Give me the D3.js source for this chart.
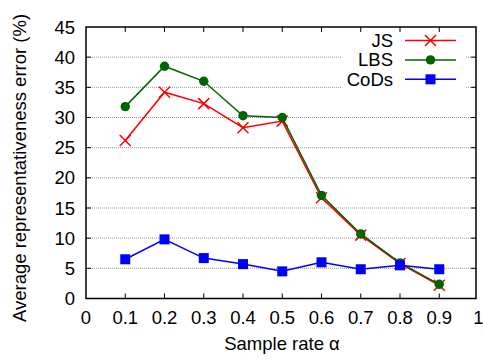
<!DOCTYPE html>
<meta charset="utf-8">
<script src="https://d3js.org/d3.v7.min.js"></script>
<style>
  body { margin: 0; background: #fff; }
  text { font-family: "Liberation Sans", Arial, sans-serif; fill: #000; }
</style>
<div id="chart"></div>
<script>
// data
var rates = [0.1, 0.2, 0.3, 0.4, 0.5, 0.6, 0.7, 0.8, 0.9];
var jsErr = [26.2, 34.2, 32.3, 28.3, 29.4, 16.7, 10.5, 5.8, 2.2];
var lbsErr = [31.8, 38.5, 36.0, 30.3, 30.0, 17.1, 10.7, 5.9, 2.35];
var codsErr = [6.5, 9.8, 6.7, 5.7, 4.5, 6.0, 4.85, 5.5, 4.85];
var xTicks = [0, 0.1, 0.2, 0.3, 0.4, 0.5, 0.6, 0.7, 0.8, 0.9, 1];
var yTicks = [0, 5, 10, 15, 20, 25, 30, 35, 40, 45];
var seriesNames = ["JS", "LBS", "CoDs"];

var W = 483, H = 360;
var pLeft = 86, pRight = 476, pTop = 27, pBottom = 298.5;
var fs = 18.5;

var svg = d3.select("#chart").append("svg")
    .attr("width", W).attr("height", H);

var x = d3.scaleLinear().domain([0, 1]).range([pLeft, 478.5]);
var y = d3.scaleLinear().domain([0, 45]).range([pBottom, pTop]);

// grid
svg.append("g").selectAll("line")
    .data(yTicks.filter(function(d) { return d > 0 && d < 45; }))
    .enter().append("line")
    .attr("x1", pLeft).attr("x2", pRight)
    .attr("y1", function(d) { return y(d); })
    .attr("y2", function(d) { return y(d); })
    .attr("stroke", "#999")
    .attr("stroke-width", 1)
    .attr("stroke-dasharray", "1,1");

// legend background hides the grid
svg.append("rect")
    .attr("x", 342).attr("y", 29).attr("width", 124).attr("height", 60)
    .attr("fill", "#fff");

// ticks (mirrored, inward)
var tickLen = 5;
var tg = svg.append("g").attr("stroke", "#000").attr("stroke-width", 1);
xTicks.filter(function(d) { return d > 0 && d < 1; }).forEach(function(d) {
    tg.append("line").attr("x1", x(d)).attr("x2", x(d)).attr("y1", pBottom).attr("y2", pBottom - tickLen);
    tg.append("line").attr("x1", x(d)).attr("x2", x(d)).attr("y1", pTop).attr("y2", pTop + tickLen);
});
yTicks.filter(function(d) { return d > 0 && d < 45; }).forEach(function(d) {
    tg.append("line").attr("x1", pLeft).attr("x2", pLeft + tickLen).attr("y1", y(d)).attr("y2", y(d));
    tg.append("line").attr("x1", pRight).attr("x2", pRight - tickLen).attr("y1", y(d)).attr("y2", y(d));
});

// tick labels
svg.append("g").selectAll("text")
    .data(xTicks).enter().append("text")
    .attr("x", function(d) { return x(d); })
    .attr("y", 324)
    .attr("text-anchor", "middle")
    .attr("font-size", fs)
    .text(function(d) { return d; });

svg.append("g").selectAll("text")
    .data(yTicks).enter().append("text")
    .attr("x", 75)
    .attr("y", function(d) { return y(d) + 6.5; })
    .attr("text-anchor", "end")
    .attr("font-size", fs)
    .text(function(d) { return d; });

// axis titles
svg.append("text")
    .attr("x", 282).attr("y", 350)
    .attr("text-anchor", "middle")
    .attr("font-size", fs)
    .text("Sample rate α");

svg.append("text")
    .attr("transform", "translate(26,168) rotate(-90)")
    .attr("text-anchor", "middle")
    .attr("font-size", fs)
    .text("Average representativeness error (%)");

// series
var line = d3.line()
    .x(function(d, i) { return x(rates[i]); })
    .y(function(d) { return y(d); });

var colors = { JS: "#ff0000", LBS: "#006400", CoDs: "#0000ff" };

function drawMarker(g, name, cx, cy) {
    var c = colors[name];
    if (name === "JS") {
        var s = 5.5;
        g.append("path")
            .attr("d", "M" + (cx - s) + "," + (cy - s) + "L" + (cx + s) + "," + (cy + s) +
                "M" + (cx - s) + "," + (cy + s) + "L" + (cx + s) + "," + (cy - s))
            .attr("stroke", c).attr("stroke-width", 1.5).attr("fill", "none");
    } else if (name === "LBS") {
        g.append("circle").attr("cx", cx).attr("cy", cy).attr("r", 4.7).attr("fill", c);
    } else {
        g.append("rect").attr("x", cx - 5).attr("y", cy - 5)
            .attr("width", 10).attr("height", 10).attr("fill", c);
    }
}

[jsErr, lbsErr, codsErr].forEach(function(vals, k) {
    var name = seriesNames[k];
    var g = svg.append("g");
    g.append("path")
        .attr("d", line(vals))
        .attr("fill", "none")
        .attr("stroke", colors[name])
        .attr("stroke-width", 1.5);
    vals.forEach(function(v, i) {
        drawMarker(g, name, x(rates[i]), y(v));
    });
});

// legend
seriesNames.forEach(function(name, i) {
    var ly = 40.5 + i * 19.4;
    var g = svg.append("g");
    g.append("text")
        .attr("x", 393).attr("y", ly + 6.5)
        .attr("text-anchor", "end")
        .attr("font-size", fs)
        .text(name);
    g.append("line")
        .attr("x1", 405).attr("x2", 456)
        .attr("y1", ly).attr("y2", ly)
        .attr("stroke", colors[name]).attr("stroke-width", 1.5);
    drawMarker(g, name, 430.5, ly);
});

// frame
svg.append("rect")
    .attr("x", pLeft).attr("y", pTop)
    .attr("width", pRight - pLeft).attr("height", pBottom - pTop)
    .attr("fill", "none").attr("stroke", "#000").attr("stroke-width", 1.5);
</script>
